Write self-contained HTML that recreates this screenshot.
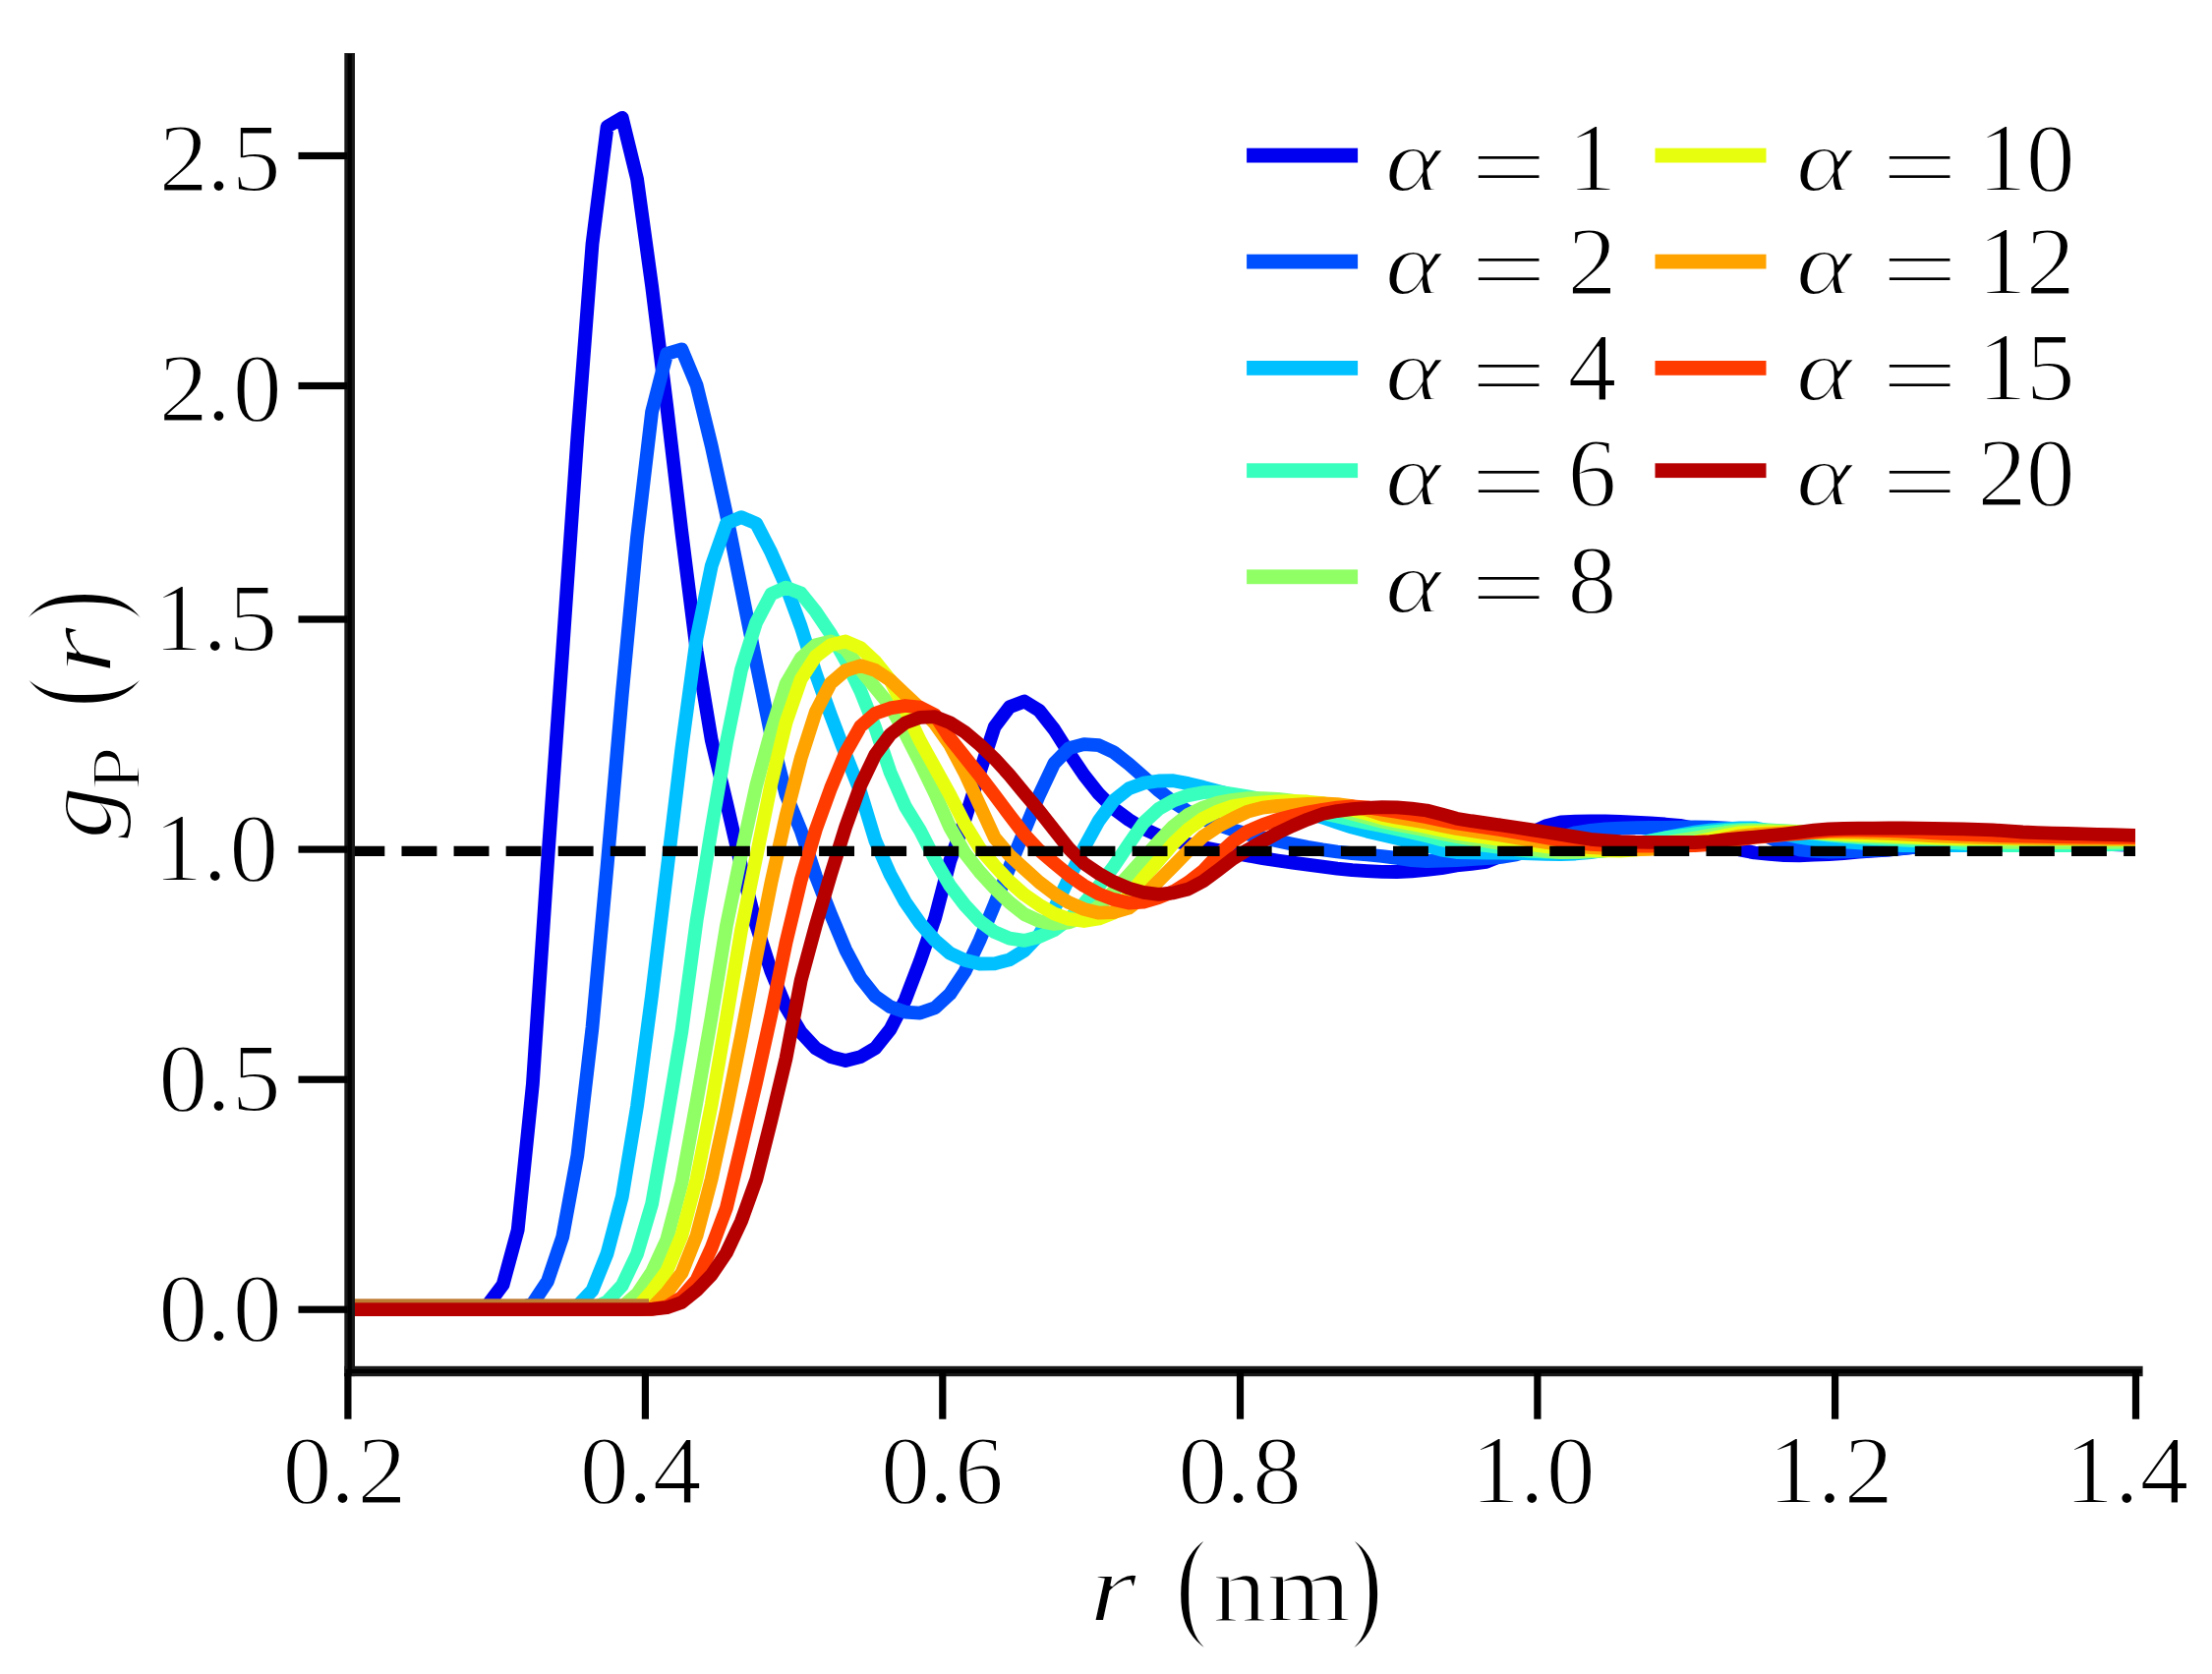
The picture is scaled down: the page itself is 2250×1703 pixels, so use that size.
<!DOCTYPE html>
<html lang="en"><head><meta charset="utf-8"><title>g_P(r)</title>
<style>html,body{margin:0;padding:0;background:#fff;overflow:hidden}svg{display:block}text{font-family:"Liberation Serif",serif;fill:#000;stroke:#fff;stroke-width:2px}.it{font-style:italic}</style></head><body>
<svg xmlns="http://www.w3.org/2000/svg" width="2250" height="1703" viewBox="0 0 2250 1703">
<rect width="2250" height="1703" fill="#fff"/>
<defs><clipPath id="ax"><rect x="355.7" y="40" width="1816.3" height="1355"/></clipPath></defs>
<g clip-path="url(#ax)" fill="none" stroke-linejoin="round" stroke-linecap="butt" stroke-width="13.8">
<path d="M354.0,1332.0 360.0,1332.0 375.2,1332.0 390.3,1332.0 405.5,1332.0 420.6,1332.0 435.8,1332.0 450.9,1332.0 466.1,1332.0 481.3,1331.7 496.4,1327.2 511.6,1306.9 526.7,1251.3 541.9,1102.6 557.0,877.4 572.2,662.7 587.3,445.2 602.5,248.1 617.6,128.9 632.8,119.8 648.0,181.8 663.1,291.1 678.3,413.7 693.4,541.6 708.6,662.1 723.7,752.7 738.9,816.2 754.0,881.4 769.2,941.2 784.4,988.2 799.5,1024.7 814.7,1050.2 829.8,1066.5 845.0,1075.1 860.1,1079.0 875.3,1075.1 890.4,1066.2 905.6,1047.1 920.8,1017.3 935.9,977.7 951.1,934.0 966.2,876.2 981.4,834.1 996.5,785.9 1011.7,739.3 1026.8,719.3 1042.0,713.5 1057.1,722.9 1072.3,742.1 1087.5,766.1 1102.6,788.5 1117.8,807.7 1132.9,822.6 1148.1,833.9 1163.2,843.1 1178.4,850.1 1193.5,854.9 1208.7,858.7 1223.8,862.0 1239.0,865.0 1254.2,867.8 1269.3,870.5 1284.5,873.1 1299.6,875.5 1314.8,877.7 1329.9,879.7 1345.1,881.6 1360.2,883.6 1375.4,885.2 1390.6,886.1 1405.7,886.8 1420.9,887.0 1436.0,886.3 1451.2,884.9 1466.3,883.1 1481.5,880.4 1496.6,878.8 1511.8,876.9 1526.9,870.8 1542.1,860.5 1557.3,847.2 1572.4,840.2 1587.6,836.5 1602.7,835.6 1617.9,835.3 1633.0,835.5 1648.2,836.0 1663.3,836.6 1678.5,837.5 1693.7,838.5 1708.8,839.9 1724.0,842.8 1739.1,849.3 1754.3,856.7 1769.4,864.4 1784.6,867.5 1799.7,869.0 1814.9,870.2 1830.0,870.3 1845.2,869.7 1860.4,869.0 1875.5,868.0 1890.7,866.7 1905.8,865.6 1921.0,864.5 1936.1,863.1 1951.3,861.5 1966.4,860.2 1981.6,859.3 1996.8,858.4 2011.9,857.7 2027.1,857.2 2042.2,857.0 2057.4,857.1 2072.5,857.4 2087.7,857.7 2102.8,858.1 2118.0,858.4 2133.2,858.8 2148.3,859.2 2163.5,859.7 2172.0,860.0" stroke="#0000f1"/>
<path d="M354.0,1332.0 360.0,1332.0 375.2,1332.0 390.3,1332.0 405.5,1332.0 420.6,1332.0 435.8,1332.0 450.9,1332.0 466.1,1332.0 481.3,1332.0 496.4,1332.0 511.6,1332.0 526.7,1331.7 541.9,1326.1 557.0,1303.4 572.2,1258.4 587.3,1175.8 602.5,1045.2 617.6,880.9 632.8,706.3 648.0,546.7 663.1,418.9 678.3,359.8 693.4,355.3 708.6,391.9 723.7,453.5 738.9,523.4 754.0,598.4 769.2,674.5 784.4,748.3 799.5,808.5 814.7,845.1 829.8,891.2 845.0,930.0 860.1,966.2 875.3,994.7 890.4,1013.7 905.6,1024.3 920.8,1029.6 935.9,1030.6 951.1,1025.3 966.2,1011.3 981.4,988.5 996.5,956.6 1011.7,919.9 1026.8,882.4 1042.0,845.2 1057.1,808.7 1072.3,776.6 1087.5,761.1 1102.6,757.1 1117.8,758.2 1132.9,765.2 1148.1,777.1 1163.2,790.4 1178.4,804.0 1193.5,815.9 1208.7,825.7 1223.8,833.1 1239.0,839.2 1254.2,844.3 1269.3,848.5 1284.5,852.1 1299.6,855.5 1314.8,858.7 1329.9,861.8 1345.1,864.4 1360.2,866.5 1375.4,868.1 1390.6,869.5 1405.7,871.0 1420.9,872.9 1436.0,875.1 1451.2,876.0 1466.3,875.7 1481.5,875.0 1496.6,874.2 1511.8,873.2 1526.9,871.9 1542.1,869.4 1557.3,864.9 1572.4,859.0 1587.6,851.9 1602.7,847.2 1617.9,844.9 1633.0,843.4 1648.2,842.7 1663.3,842.2 1678.5,842.0 1693.7,841.8 1708.8,841.6 1724.0,841.5 1739.1,841.6 1754.3,842.3 1769.4,843.5 1784.6,847.0 1799.7,851.9 1814.9,858.8 1830.0,864.3 1845.2,865.9 1860.4,866.5 1875.5,866.3 1890.7,865.8 1905.8,865.2 1921.0,864.3 1936.1,863.0 1951.3,861.6 1966.4,860.0 1981.6,858.5 1996.8,857.7 2011.9,857.0 2027.1,856.5 2042.2,856.1 2057.4,855.9 2072.5,855.7 2087.7,855.6 2102.8,855.5 2118.0,855.5 2133.2,855.6 2148.3,855.7 2163.5,855.9 2172.0,856.0" stroke="#0050ff"/>
<path d="M354.0,1332.0 360.0,1332.0 375.2,1332.0 390.3,1332.0 405.5,1332.0 420.6,1332.0 435.8,1332.0 450.9,1332.0 466.1,1332.0 481.3,1332.0 496.4,1332.0 511.6,1332.0 526.7,1332.0 541.9,1332.0 557.0,1332.0 572.2,1331.9 587.3,1328.8 602.5,1312.8 617.6,1275.1 632.8,1217.5 648.0,1125.5 663.1,1012.2 678.3,887.2 693.4,761.6 708.6,649.3 723.7,575.8 738.9,532.5 754.0,526.2 769.2,532.5 784.4,561.9 799.5,596.3 814.7,637.5 829.8,685.3 845.0,727.7 860.1,767.5 875.3,805.8 890.4,855.4 905.6,889.8 920.8,917.6 935.9,939.3 951.1,956.6 966.2,969.8 981.4,976.8 996.5,980.5 1011.7,980.3 1026.8,976.3 1042.0,967.0 1057.1,951.0 1072.3,924.5 1087.5,893.3 1102.6,862.5 1117.8,834.8 1132.9,814.3 1148.1,802.3 1163.2,796.7 1178.4,794.5 1193.5,794.2 1208.7,797.1 1223.8,800.8 1239.0,805.0 1254.2,809.0 1269.3,812.6 1284.5,816.0 1299.6,819.6 1314.8,823.3 1329.9,827.2 1345.1,831.5 1360.2,836.7 1375.4,841.7 1390.6,845.7 1405.7,849.2 1420.9,852.9 1436.0,856.6 1451.2,860.3 1466.3,864.7 1481.5,867.0 1496.6,867.3 1511.8,867.5 1526.9,867.6 1542.1,867.9 1557.3,868.3 1572.4,868.8 1587.6,869.0 1602.7,868.5 1617.9,867.2 1633.0,865.0 1648.2,861.6 1663.3,858.3 1678.5,855.2 1693.7,852.2 1708.8,849.4 1724.0,846.6 1739.1,844.6 1754.3,843.3 1769.4,842.3 1784.6,842.3 1799.7,845.2 1814.9,848.5 1830.0,851.7 1845.2,854.0 1860.4,855.3 1875.5,856.4 1890.7,857.4 1905.8,858.6 1921.0,859.7 1936.1,860.2 1951.3,860.2 1966.4,860.2 1981.6,860.2 1996.8,860.1 2011.9,859.7 2027.1,859.0 2042.2,858.3 2057.4,857.7 2072.5,857.2 2087.7,856.6 2102.8,856.2 2118.0,855.8 2133.2,855.5 2148.3,855.3 2163.5,855.1 2172.0,855.0" stroke="#00c0ff"/>
<path d="M354.0,1332.0 360.0,1332.0 375.2,1332.0 390.3,1332.0 405.5,1332.0 420.6,1332.0 435.8,1332.0 450.9,1332.0 466.1,1332.0 481.3,1332.0 496.4,1332.0 511.6,1332.0 526.7,1332.0 541.9,1332.0 557.0,1332.0 572.2,1332.0 587.3,1332.0 602.5,1331.3 617.6,1324.2 632.8,1307.7 648.0,1275.8 663.1,1224.8 678.3,1139.2 693.4,1049.1 708.6,936.5 723.7,843.5 738.9,755.7 754.0,681.4 769.2,633.2 784.4,604.4 799.5,597.6 814.7,603.5 829.8,622.3 845.0,644.8 860.1,671.8 875.3,702.9 890.4,740.6 905.6,785.8 920.8,820.3 935.9,844.9 951.1,874.7 966.2,900.9 981.4,920.8 996.5,937.0 1011.7,948.2 1026.8,954.6 1042.0,956.9 1057.1,953.0 1072.3,946.2 1087.5,934.9 1102.6,919.2 1117.8,901.3 1132.9,881.3 1148.1,858.9 1163.2,837.1 1178.4,823.1 1193.5,814.5 1208.7,809.1 1223.8,806.2 1239.0,805.7 1254.2,807.9 1269.3,810.4 1284.5,813.3 1299.6,816.4 1314.8,819.9 1329.9,823.6 1345.1,827.2 1360.2,830.6 1375.4,834.0 1390.6,837.2 1405.7,840.2 1420.9,843.5 1436.0,846.8 1451.2,850.3 1466.3,854.2 1481.5,857.2 1496.6,858.7 1511.8,860.1 1526.9,862.1 1542.1,864.3 1557.3,865.9 1572.4,866.5 1587.6,866.9 1602.7,867.0 1617.9,865.9 1633.0,863.9 1648.2,861.8 1663.3,858.7 1678.5,855.4 1693.7,852.4 1708.8,850.3 1724.0,848.3 1739.1,846.5 1754.3,845.0 1769.4,844.1 1784.6,843.9 1799.7,844.5 1814.9,845.4 1830.0,846.5 1845.2,847.9 1860.4,849.6 1875.5,851.0 1890.7,852.1 1905.8,853.0 1921.0,853.9 1936.1,854.7 1951.3,855.3 1966.4,856.0 1981.6,856.8 1996.8,857.8 2011.9,858.9 2027.1,859.8 2042.2,860.2 2057.4,860.2 2072.5,860.1 2087.7,860.1 2102.8,860.0 2118.0,859.8 2133.2,859.5 2148.3,859.2 2163.5,858.8 2172.0,858.5" stroke="#39ffbe"/>
<path d="M354.0,1332.0 360.0,1332.0 375.2,1332.0 390.3,1332.0 405.5,1332.0 420.6,1332.0 435.8,1332.0 450.9,1332.0 466.1,1332.0 481.3,1332.0 496.4,1332.0 511.6,1332.0 526.7,1332.0 541.9,1332.0 557.0,1332.0 572.2,1332.0 587.3,1332.0 602.5,1332.0 617.6,1331.8 632.8,1329.7 648.0,1316.5 663.1,1294.1 678.3,1261.1 693.4,1203.5 708.6,1120.7 723.7,1034.6 738.9,941.8 754.0,868.9 769.2,799.4 784.4,743.7 799.5,695.8 814.7,669.6 829.8,656.1 845.0,652.5 860.1,660.1 875.3,681.1 890.4,699.7 905.6,718.2 920.8,746.2 935.9,776.0 951.1,807.2 966.2,841.5 981.4,867.8 996.5,887.0 1011.7,903.6 1026.8,918.0 1042.0,930.1 1057.1,937.0 1072.3,940.0 1087.5,938.4 1102.6,932.7 1117.8,922.0 1132.9,906.6 1148.1,890.2 1163.2,873.4 1178.4,856.2 1193.5,840.6 1208.7,828.7 1223.8,821.6 1239.0,816.6 1254.2,813.8 1269.3,812.2 1284.5,812.2 1299.6,812.9 1314.8,814.7 1329.9,817.2 1345.1,820.0 1360.2,823.7 1375.4,827.8 1390.6,831.8 1405.7,835.7 1420.9,838.9 1436.0,841.8 1451.2,844.7 1466.3,848.0 1481.5,851.0 1496.6,853.4 1511.8,855.7 1526.9,858.2 1542.1,861.1 1557.3,863.6 1572.4,865.8 1587.6,867.0 1602.7,866.8 1617.9,866.4 1633.0,865.5 1648.2,863.8 1663.3,861.9 1678.5,859.8 1693.7,857.4 1708.8,854.9 1724.0,852.5 1739.1,849.9 1754.3,847.2 1769.4,845.3 1784.6,844.8 1799.7,845.0 1814.9,845.5 1830.0,846.0 1845.2,847.1 1860.4,848.7 1875.5,850.0 1890.7,850.8 1905.8,851.4 1921.0,851.9 1936.1,852.4 1951.3,852.8 1966.4,853.2 1981.6,853.7 1996.8,854.5 2011.9,855.5 2027.1,856.4 2042.2,856.8 2057.4,856.9 2072.5,856.9 2087.7,857.0 2102.8,857.0 2118.0,857.0 2133.2,856.9 2148.3,856.8 2163.5,856.6 2172.0,856.5" stroke="#90ff66"/>
<path d="M354.0,1332.0 360.0,1332.0 375.2,1332.0 390.3,1332.0 405.5,1332.0 420.6,1332.0 435.8,1332.0 450.9,1332.0 466.1,1332.0 481.3,1332.0 496.4,1332.0 511.6,1332.0 526.7,1332.0 541.9,1332.0 557.0,1332.0 572.2,1332.0 587.3,1332.0 602.5,1332.0 617.6,1332.0 632.8,1332.0 648.0,1330.5 663.1,1313.7 678.3,1293.1 693.4,1256.9 708.6,1199.4 723.7,1124.0 738.9,1036.1 754.0,946.1 769.2,872.0 784.4,797.3 799.5,735.0 814.7,691.0 829.8,667.8 845.0,656.1 860.1,652.5 875.3,659.1 890.4,673.1 905.6,692.1 920.8,721.9 935.9,753.7 951.1,781.2 966.2,808.4 981.4,838.4 996.5,862.9 1011.7,880.6 1026.8,896.8 1042.0,910.2 1057.1,920.7 1072.3,929.4 1087.5,934.9 1102.6,937.0 1117.8,934.5 1132.9,928.5 1148.1,911.1 1163.2,893.0 1178.4,875.5 1193.5,858.0 1208.7,843.5 1223.8,832.6 1239.0,825.2 1254.2,820.0 1269.3,817.7 1284.5,816.4 1299.6,815.4 1314.8,814.8 1329.9,815.5 1345.1,817.1 1360.2,820.1 1375.4,823.9 1390.6,827.9 1405.7,832.2 1420.9,835.5 1436.0,838.3 1451.2,841.2 1466.3,844.6 1481.5,847.6 1496.6,849.8 1511.8,851.8 1526.9,854.1 1542.1,856.7 1557.3,859.1 1572.4,861.1 1587.6,862.9 1602.7,864.2 1617.9,864.9 1633.0,865.4 1648.2,865.5 1663.3,864.5 1678.5,863.2 1693.7,861.3 1708.8,858.9 1724.0,856.5 1739.1,853.5 1754.3,850.0 1769.4,847.3 1784.6,846.6 1799.7,846.5 1814.9,846.5 1830.0,846.5 1845.2,846.9 1860.4,847.9 1875.5,848.7 1890.7,849.3 1905.8,849.9 1921.0,850.4 1936.1,851.1 1951.3,851.8 1966.4,852.4 1981.6,852.8 1996.8,853.0 2011.9,853.1 2027.1,853.3 2042.2,853.4 2057.4,853.5 2072.5,853.6 2087.7,853.7 2102.8,853.7 2118.0,853.8 2133.2,853.9 2148.3,853.9 2163.5,854.0 2172.0,854.0" stroke="#e7ff0f"/>
<path d="M354.0,1332.0 360.0,1332.0 375.2,1332.0 390.3,1332.0 405.5,1332.0 420.6,1332.0 435.8,1332.0 450.9,1332.0 466.1,1332.0 481.3,1332.0 496.4,1332.0 511.6,1332.0 526.7,1332.0 541.9,1332.0 557.0,1332.0 572.2,1332.0 587.3,1332.0 602.5,1332.0 617.6,1332.0 632.8,1332.0 648.0,1332.0 663.1,1330.7 678.3,1315.0 693.4,1295.1 708.6,1257.0 723.7,1199.5 738.9,1129.6 754.0,1053.9 769.2,973.9 784.4,898.0 799.5,830.3 814.7,771.2 829.8,724.2 845.0,694.9 860.1,682.1 875.3,677.2 890.4,681.9 905.6,691.9 920.8,706.5 935.9,720.5 951.1,736.2 966.2,757.6 981.4,786.2 996.5,819.2 1011.7,852.2 1026.8,870.0 1042.0,883.8 1057.1,897.5 1072.3,909.1 1087.5,918.3 1102.6,924.9 1117.8,928.7 1132.9,928.1 1148.1,923.7 1163.2,912.0 1178.4,896.3 1193.5,881.1 1208.7,865.5 1223.8,850.9 1239.0,840.7 1254.2,832.8 1269.3,825.6 1284.5,821.6 1299.6,819.9 1314.8,818.8 1329.9,818.0 1345.1,817.5 1360.2,818.1 1375.4,820.2 1390.6,823.8 1405.7,828.8 1420.9,831.8 1436.0,834.2 1451.2,836.7 1466.3,839.9 1481.5,842.9 1496.6,845.2 1511.8,847.3 1526.9,849.6 1542.1,852.1 1557.3,854.6 1572.4,856.9 1587.6,859.0 1602.7,860.8 1617.9,862.1 1633.0,862.9 1648.2,863.6 1663.3,864.0 1678.5,863.8 1693.7,862.8 1708.8,861.3 1724.0,859.5 1739.1,857.0 1754.3,853.6 1769.4,850.6 1784.6,849.0 1799.7,848.1 1814.9,847.4 1830.0,847.0 1845.2,846.8 1860.4,846.7 1875.5,846.6 1890.7,846.8 1905.8,847.3 1921.0,847.9 1936.1,848.6 1951.3,849.4 1966.4,850.3 1981.6,850.9 1996.8,851.3 2011.9,851.8 2027.1,852.1 2042.2,852.4 2057.4,852.7 2072.5,852.8 2087.7,853.0 2102.8,853.1 2118.0,853.3 2133.2,853.4 2148.3,853.5 2163.5,853.5 2172.0,853.5" stroke="#ffa300"/>
<path d="M354.0,1332.0 360.0,1332.0 375.2,1332.0 390.3,1332.0 405.5,1332.0 420.6,1332.0 435.8,1332.0 450.9,1332.0 466.1,1332.0 481.3,1332.0 496.4,1332.0 511.6,1332.0 526.7,1332.0 541.9,1332.0 557.0,1332.0 572.2,1332.0 587.3,1332.0 602.5,1332.0 617.6,1332.0 632.8,1332.0 648.0,1332.0 663.1,1331.8 678.3,1329.4 693.4,1319.8 708.6,1302.2 723.7,1269.5 738.9,1228.9 754.0,1165.8 769.2,1100.9 784.4,1032.1 799.5,958.9 814.7,895.5 829.8,844.0 845.0,802.0 860.1,765.7 875.3,738.9 890.4,725.7 905.6,720.4 920.8,718.0 935.9,719.6 951.1,727.4 966.2,750.9 981.4,770.0 996.5,789.0 1011.7,808.9 1026.8,829.1 1042.0,849.0 1057.1,865.1 1072.3,878.0 1087.5,890.5 1102.6,901.0 1117.8,909.4 1132.9,915.1 1148.1,918.5 1163.2,917.7 1178.4,913.1 1193.5,907.0 1208.7,897.6 1223.8,885.9 1239.0,869.8 1254.2,856.1 1269.3,845.6 1284.5,839.0 1299.6,833.9 1314.8,829.9 1329.9,826.5 1345.1,823.8 1360.2,821.7 1375.4,820.3 1390.6,821.4 1405.7,823.7 1420.9,825.9 1436.0,828.5 1451.2,831.2 1466.3,834.4 1481.5,837.5 1496.6,839.7 1511.8,841.8 1526.9,844.1 1542.1,846.8 1557.3,849.5 1572.4,852.1 1587.6,854.7 1602.7,856.9 1617.9,858.8 1633.0,859.6 1648.2,860.1 1663.3,860.5 1678.5,860.5 1693.7,860.4 1708.8,860.3 1724.0,860.2 1739.1,859.1 1754.3,856.6 1769.4,854.0 1784.6,852.0 1799.7,850.6 1814.9,849.2 1830.0,848.0 1845.2,846.6 1860.4,845.2 1875.5,844.6 1890.7,844.7 1905.8,844.8 1921.0,845.0 1936.1,845.5 1951.3,846.4 1966.4,847.4 1981.6,848.2 1996.8,848.8 2011.9,849.4 2027.1,849.9 2042.2,850.3 2057.4,850.6 2072.5,850.9 2087.7,851.1 2102.8,851.3 2118.0,851.5 2133.2,851.6 2148.3,851.8 2163.5,851.9 2172.0,852.0" stroke="#ff3b00"/>
<path d="M354.0,1332.0 360.0,1332.0 375.2,1332.0 390.3,1332.0 405.5,1332.0 420.6,1332.0 435.8,1332.0 450.9,1332.0 466.1,1332.0 481.3,1332.0 496.4,1332.0 511.6,1332.0 526.7,1332.0 541.9,1332.0 557.0,1332.0 572.2,1332.0 587.3,1332.0 602.5,1332.0 617.6,1332.0 632.8,1332.0 648.0,1332.0 663.1,1331.9 678.3,1330.2 693.4,1325.0 708.6,1312.7 723.7,1297.0 738.9,1274.5 754.0,1242.4 769.2,1200.2 784.4,1139.7 799.5,1076.6 814.7,997.2 829.8,941.4 845.0,889.7 860.1,841.4 875.3,799.1 890.4,767.6 905.6,747.1 920.8,735.4 935.9,729.8 951.1,729.2 966.2,735.1 981.4,744.8 996.5,757.5 1011.7,771.9 1026.8,788.5 1042.0,807.0 1057.1,824.9 1072.3,844.3 1087.5,863.5 1102.6,878.4 1117.8,888.8 1132.9,897.2 1148.1,903.7 1163.2,907.9 1178.4,909.9 1193.5,908.4 1208.7,904.5 1223.8,896.5 1239.0,885.2 1254.2,873.5 1269.3,864.4 1284.5,855.7 1299.6,847.4 1314.8,840.1 1329.9,833.7 1345.1,828.1 1360.2,825.1 1375.4,823.2 1390.6,821.8 1405.7,821.1 1420.9,821.4 1436.0,822.6 1451.2,824.5 1466.3,828.4 1481.5,832.7 1496.6,835.2 1511.8,837.3 1526.9,839.5 1542.1,841.8 1557.3,844.1 1572.4,846.5 1587.6,849.0 1602.7,851.4 1617.9,853.8 1633.0,855.1 1648.2,856.1 1663.3,856.7 1678.5,856.9 1693.7,856.9 1708.8,857.0 1724.0,857.0 1739.1,856.1 1754.3,854.4 1769.4,852.9 1784.6,851.5 1799.7,850.0 1814.9,848.5 1830.0,846.7 1845.2,844.7 1860.4,843.3 1875.5,842.9 1890.7,842.7 1905.8,842.6 1921.0,842.5 1936.1,842.5 1951.3,842.7 1966.4,842.9 1981.6,843.1 1996.8,843.4 2011.9,843.9 2027.1,844.4 2042.2,845.3 2057.4,846.5 2072.5,847.1 2087.7,847.6 2102.8,848.0 2118.0,848.4 2133.2,848.9 2148.3,849.2 2163.5,849.6 2172.0,849.8" stroke="#b60000"/>
</g>
<rect x="360" y="1321.3" width="300" height="4" fill="#be7b32" clip-path="url(#ax)"/>
<path d="M355.4,865.8H2172" stroke="#000" stroke-width="10.3" stroke-dasharray="35.9 17.18" fill="none"/>
<rect x="350.3" y="54" width="10.7" height="1346.1" fill="#191919"/>
<rect x="350.3" y="1389.8" width="1829.3" height="10.4" fill="#191919"/>
<rect x="353.6" y="55" width="4.2" height="1344" fill="#000"/>
<rect x="351.5" y="1392.9" width="1827" height="4.2" fill="#000"/>
<rect x="303.5" y="154.90" width="50" height="7.2" fill="#000"/>
<rect x="303.5" y="388.90" width="50" height="7.2" fill="#000"/>
<rect x="303.5" y="626.40" width="50" height="7.2" fill="#000"/>
<rect x="303.5" y="860.50" width="50" height="7.2" fill="#000"/>
<rect x="303.5" y="1094.60" width="50" height="7.2" fill="#000"/>
<rect x="303.5" y="1328.60" width="50" height="7.2" fill="#000"/>
<rect x="350.30" y="1397" width="7.2" height="46.7" fill="#000"/>
<rect x="652.80" y="1397" width="7.2" height="46.7" fill="#000"/>
<rect x="955.20" y="1397" width="7.2" height="46.7" fill="#000"/>
<rect x="1257.90" y="1397" width="7.2" height="46.7" fill="#000"/>
<rect x="1560.30" y="1397" width="7.2" height="46.7" fill="#000"/>
<rect x="1863.00" y="1397" width="7.2" height="46.7" fill="#000"/>
<rect x="2168.90" y="1397" width="7.2" height="46.7" fill="#000"/>
<text x="287.4 336.1 363.5" y="1529.4" font-size="100">0.2</text>
<text x="589.8 638.7 663.7" y="1529.4" font-size="100">0.4</text>
<text x="895.9 944.7 971.1" y="1529.4" font-size="100">0.6</text>
<text x="1198.3 1247.0 1273.9" y="1529.4" font-size="100">0.8</text>
<text x="1496.0 1545.8 1572.8" y="1529.4" font-size="100">1.0</text>
<text x="1798.2 1848.5 1875.8" y="1529.4" font-size="100">1.2</text>
<text x="2100.0 2150.8 2176.4" y="1529.4" font-size="100">1.4</text>
<text x="161.8 210.1 235.8" y="193.9" font-size="100">2.5</text>
<text x="161.8 210.1 236.8" y="428.0" font-size="100">2.0</text>
<text x="156.2 206.3 232.3" y="662.0" font-size="100">1.5</text>
<text x="156.2 206.3 233.2" y="896.1" font-size="100">1.0</text>
<text x="161.2 210.1 235.8" y="1130.1" font-size="100">0.5</text>
<text x="161.2 210.1 236.8" y="1364.2" font-size="100">0.0</text>
<text transform="translate(1108.1,1648.5) scale(1.25,1)" font-size="99.3" class="it">r</text>
<text transform="translate(1190.4,1656.6) scale(1.1,1)" font-size="146" style="stroke-width:6.5px">(</text>
<text transform="translate(1233.6,1648.5) scale(1.1075,1)" font-size="99.3">nm</text>
<text transform="translate(1358.3,1656.6) scale(1.1,1)" font-size="146" style="stroke-width:6.5px">)</text>
<g transform="translate(113,0) rotate(-90)">
<text transform="translate(-853.4,0.0) scale(1.066,1)" font-size="100.4" class="it">g</text>
<text transform="translate(-804.8,28.7) scale(1.14,1)" font-size="71.6">P</text>
<text x="-724.6" y="9.2" font-size="150" style="stroke-width:6.5px">(</text>
<text transform="translate(-686.2,0.0) scale(1.25,1)" font-size="100.4" class="it">r</text>
<text x="-645.1" y="9.2" font-size="150" style="stroke-width:6.5px">)</text>
</g>
<rect x="1268.1" y="150.7" width="113" height="14.8" fill="#0000f1"/>
<text transform="translate(1409.0,194.0) scale(1.18,1)" font-size="92" class="it">α</text>
<text transform="translate(1495.5,201.5) scale(1.43,1)" font-size="97">=</text>
<text x="1594.5" y="194.0" font-size="100">1</text>
<rect x="1268.1" y="258.7" width="113" height="14.8" fill="#0050ff"/>
<text transform="translate(1409.0,298.6) scale(1.18,1)" font-size="92" class="it">α</text>
<text transform="translate(1495.5,306.1) scale(1.43,1)" font-size="97">=</text>
<text x="1594.5" y="298.6" font-size="100">2</text>
<rect x="1268.1" y="367.0" width="113" height="14.8" fill="#00c0ff"/>
<text transform="translate(1409.0,406.7) scale(1.18,1)" font-size="92" class="it">α</text>
<text transform="translate(1495.5,414.2) scale(1.43,1)" font-size="97">=</text>
<text x="1594.5" y="406.7" font-size="100">4</text>
<rect x="1268.1" y="471.3" width="113" height="14.8" fill="#39ffbe"/>
<text transform="translate(1409.0,514.4) scale(1.18,1)" font-size="92" class="it">α</text>
<text transform="translate(1495.5,521.9) scale(1.43,1)" font-size="97">=</text>
<text x="1594.5" y="514.4" font-size="100">6</text>
<rect x="1268.1" y="579.4" width="113" height="14.8" fill="#90ff66"/>
<text transform="translate(1409.0,622.5) scale(1.18,1)" font-size="92" class="it">α</text>
<text transform="translate(1495.5,630.0) scale(1.43,1)" font-size="97">=</text>
<text x="1594.5" y="622.5" font-size="100">8</text>
<rect x="1683.5" y="150.7" width="113" height="14.8" fill="#e7ff0f"/>
<text transform="translate(1826.9,194.0) scale(1.18,1)" font-size="92" class="it">α</text>
<text transform="translate(1913.4,201.5) scale(1.43,1)" font-size="97">=</text>
<text x="2011.4 2060.8" y="194.0" font-size="100">10</text>
<rect x="1683.5" y="258.7" width="113" height="14.8" fill="#ffa300"/>
<text transform="translate(1826.9,298.6) scale(1.18,1)" font-size="92" class="it">α</text>
<text transform="translate(1913.4,306.1) scale(1.43,1)" font-size="97">=</text>
<text x="2011.4 2060.8" y="298.6" font-size="100">12</text>
<rect x="1683.5" y="367.0" width="113" height="14.8" fill="#ff3b00"/>
<text transform="translate(1826.9,406.7) scale(1.18,1)" font-size="92" class="it">α</text>
<text transform="translate(1913.4,414.2) scale(1.43,1)" font-size="97">=</text>
<text x="2011.4 2060.8" y="406.7" font-size="100">15</text>
<rect x="1683.5" y="471.3" width="113" height="14.8" fill="#b60000"/>
<text transform="translate(1826.9,514.4) scale(1.18,1)" font-size="92" class="it">α</text>
<text transform="translate(1913.4,521.9) scale(1.43,1)" font-size="97">=</text>
<text x="2011.4 2060.8" y="514.4" font-size="100">20</text>
</svg></body></html>
